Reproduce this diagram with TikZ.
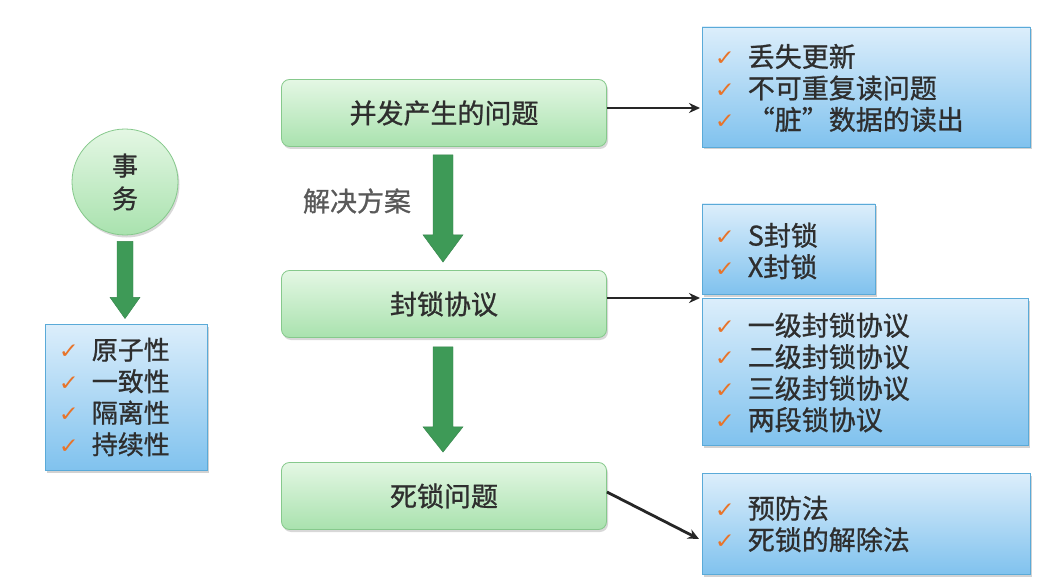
\documentclass[tikz,border=0pt]{standalone}
\usepackage{graphicx}
\usepackage{fontspec}
\setmainfont{Noto Sans CJK SC}[FakeBold=0.9]
\newfontfamily\dejavu{DejaVu Sans}
\usetikzlibrary{shadows,calc,arrows.meta}
\definecolor{txt}{HTML}{2E2E2E}
\definecolor{chk}{HTML}{E8742A}
\definecolor{agreen}{HTML}{3E9A57}
\definecolor{gtop}{HTML}{E4F7E4}
\definecolor{gbot}{HTML}{A9E2AE}
\definecolor{gline}{HTML}{86C98C}
\definecolor{btop}{HTML}{DCEEFB}
\definecolor{bbot}{HTML}{80C2EE}
\definecolor{bline}{HTML}{5AAAD8}
\newcommand{\ck}{\makebox[33pt][l]{\raisebox{1pt}{\color{chk}\scalebox{1.5}[1.35]{\fontsize{16}{16}\selectfont\dejavu ✓}}}}
\tikzset{
  gbox/.style={rectangle, rounded corners=8pt, draw=gline, line width=0.8pt,
    top color=gtop, bottom color=gbot, minimum width=325pt, minimum height=67pt,
    font=\fontsize{27}{30}\selectfont, text=txt,
    drop shadow={shadow xshift=1.5pt, shadow yshift=-2.5pt, opacity=0.3}},
  bbox/.style={rectangle, draw=bline, line width=0.8pt,
    top color=btop, bottom color=bbot,
    drop shadow={shadow xshift=1.5pt, shadow yshift=-2.5pt, opacity=0.35}},
  lst/.style={anchor=west, align=left, inner sep=0pt, text=txt,
    font=\fontsize{27}{31.5}\selectfont},
  fat/.style={fill=agreen, draw=agreen!85!black, line width=0.4pt},
  conn/.style={draw=black!85, line width=2.8pt, -{Stealth[length=11pt,width=10pt]}},
}
\begin{document}
\begin{tikzpicture}[x=1pt,y=-1pt]
\useasboundingbox[fill=white] (0,0) rectangle (1061,583);

% left part
\node[circle, draw=gline, line width=0.8pt, top color=gtop, bottom color=gbot,
  minimum size=106pt, inner sep=0pt, text=txt, align=center,
  font=\fontsize{26}{33}\selectfont,
  drop shadow={shadow xshift=1.5pt, shadow yshift=-2.5pt, opacity=0.3}]
  (tx) at (125,182) {事\\务};
\node[bbox, minimum width=162pt, minimum height=146pt] (acid) at (126,397) {};
\node[lst, font=\fontsize{26}{31.5}\selectfont] (acidt) at ($(acid.west)+(14,0)$) {\ck 原子性\\\ck 一致性\\\ck 隔离性\\\ck 持续性};
\fill[fat] ($(tx.south)+(-8,6)$) -- ($(tx.south)+(8,6)$) -- ($(tx.south)+(8,62)$)
  -- ($(tx.south)+(15,62)$) -- ($(acid.north)+(-1,-5)$) -- ($(tx.south)+(-15,62)$)
  -- ($(tx.south)+(-8,62)$) -- cycle;

% middle column
\node[gbox] (p1) at (444,113) {并发产生的问题};
\node[gbox] (p2) at (444,304) {封锁协议};
\node[gbox] (p3) at (444,496) {死锁问题};

\fill[fat] ($(p1.south)+(-11,8)$) -- ($(p1.south)+(9,8)$) -- ($(p1.south)+(9,88)$)
  -- ($(p1.south)+(19,88)$) -- ($(p2.north)+(-1,-8)$) -- ($(p1.south)+(-21,88)$)
  -- ($(p1.south)+(-11,88)$) -- cycle;
\fill[fat] ($(p2.south)+(-11,9)$) -- ($(p2.south)+(9,9)$) -- ($(p2.south)+(9,89)$)
  -- ($(p2.south)+(19,89)$) -- ($(p3.north)+(-1,-10)$) -- ($(p2.south)+(-21,89)$)
  -- ($(p2.south)+(-11,89)$) -- cycle;
\node[text=black!65, font=\fontsize{27}{27}\selectfont] (sol) at (357,201) {解决方案};

% right boxes
\node[bbox, minimum width=328pt, minimum height=120pt] (q1) at (866,87) {};
\node[lst] (q1t) at ($(q1.west)+(13,1)$) {\ck 丢失更新\\\ck 不可重复读问题\\\ck “脏”数据的读出};

\node[bbox, minimum width=173pt, minimum height=90pt] (s1) at (788.5,249) {};
\node[lst] (s1t) at ($(s1.west)+(13,2)$) {\ck S封锁\\\ck X封锁};

\node[bbox, minimum width=326pt, minimum height=147pt] (s2) at (865,371.5) {};
\node[lst] (s2t) at ($(s2.west)+(13,1)$) {\ck 一级封锁协议\\\ck 二级封锁协议\\\ck 三级封锁协议\\\ck 两段锁协议};

\node[bbox, minimum width=328pt, minimum height=101pt] (d1) at (866,524) {};
\node[lst] (d1t) at ($(d1.west)+(13,0)$) {\ck 预防法\\\ck 死锁的解除法};

% connectors
\coordinate (e1) at (700,108);
\coordinate (e2) at (700,298);
\coordinate (e3) at (699,539);
\draw[conn] (p1.east |- e1) -- (e1);
\draw[conn] (p2.east |- e2) -- (e2);
\draw[conn] ($(p3.east)+(0,-4)$) -- (e3);
\end{tikzpicture}
\end{document}
